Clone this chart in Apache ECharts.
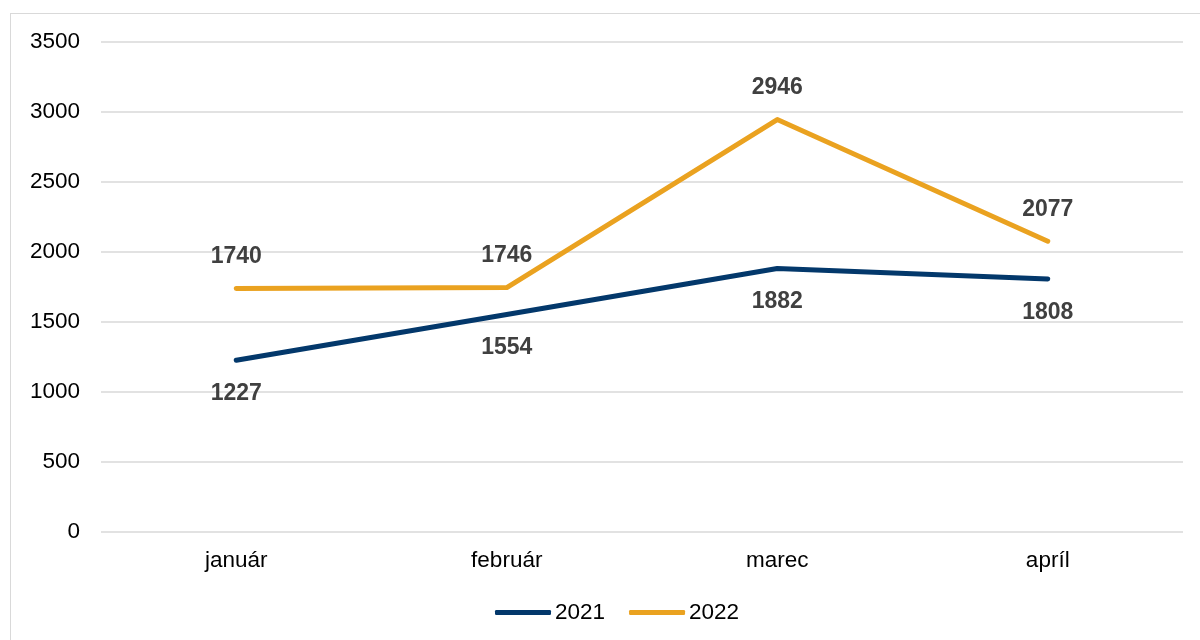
<!DOCTYPE html>
<html>
<head>
<meta charset="UTF-8">
<title>2021 vs 2022</title>
<script src="https://cdn.jsdelivr.net/npm/echarts@6/dist/echarts.min.js"></script>
<style>
	body { margin: 0; background: #fff; }
	#frame { position: absolute; left: 10px; top: 13px; width: 1300px; height: 700px; border: 1px solid #d9d9d9; }
	#chart { position: absolute; left: 0; top: 0; width: 1200px; height: 640px; }
</style>
</head>
<body>
	<div id="frame"></div>
	<div id="chart"></div>
	<script>
	// data
	var months = ['január', 'február', 'marec', 'apríl'];
	var y2021 = [1227, 1554, 1882, 1808];
	var y2022 = [1740, 1746, 2946, 2077];

	var chart = echarts.init(document.getElementById('chart'));

	var font = 'Liberation Sans, Arial, sans-serif';

	var option = {
		animation: false,
		textStyle: { fontFamily: font },
		grid: {
			left: 101,
			right: 17,
			top: 42,
			bottom: 108
		},
		legend: {
			bottom: 11,
			left: 490,
			itemWidth: 56,
			itemHeight: 5,
			itemGap: 24,
			icon: 'roundRect',
			textStyle: { fontSize: 22.5, color: '#000', fontFamily: font, padding: [0, 0, 0, -1] },
			data: ['2021', '2022']
		},
		xAxis: {
			type: 'category',
			data: months,
			axisLine: { show: false },
			axisTick: { show: false },
			axisLabel: { fontSize: 22.5, color: '#000', margin: 17 }
		},
		yAxis: {
			type: 'value',
			min: 0,
			max: 3500,
			interval: 500,
			axisLine: { show: false },
			axisTick: { show: false },
			axisLabel: { fontSize: 22.5, color: '#000', margin: 21, formatter: function (v) { return String(v); } },
			splitLine: { lineStyle: { color: '#d9d9d9', width: 1.5 } }
		},
		series: [
			{
				name: '2021',
				type: 'line',
				data: y2021,
				symbol: 'circle',
				symbolSize: 0,
				showSymbol: true,
				color: '#03386B',
				lineStyle: { width: 5, cap: 'round', join: 'round' },
				label: {
					show: true,
					position: 'bottom',
					distance: 22,
					fontSize: 23,
					fontWeight: 'bold',
					color: '#404040'
				}
			},
			{
				name: '2022',
				type: 'line',
				data: y2022,
				symbol: 'circle',
				symbolSize: 0,
				showSymbol: true,
				color: '#EAA220',
				lineStyle: { width: 5, cap: 'round', join: 'round' },
				label: {
					show: true,
					position: 'top',
					distance: 20,
					fontSize: 23,
					fontWeight: 'bold',
					color: '#404040'
				}
			}
		]
	};

	chart.setOption(option);
	</script>
</body>
</html>
